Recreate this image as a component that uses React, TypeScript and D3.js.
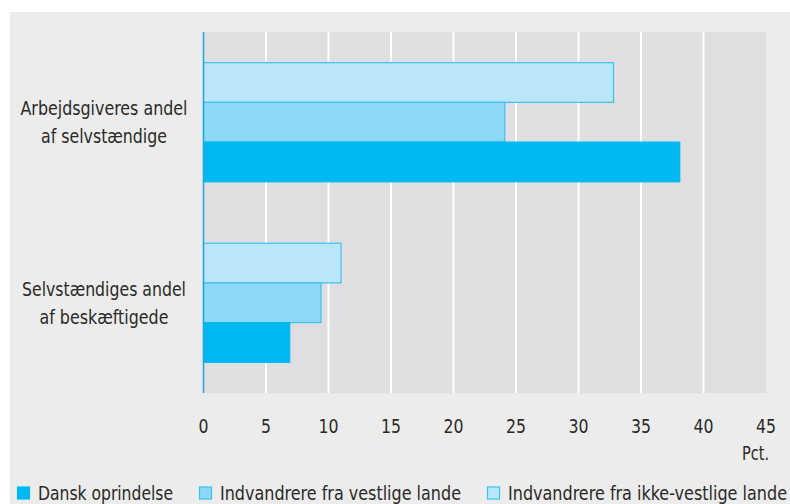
import React from "react";
import * as d3 from "d3";

const categories = ["Arbejdsgiveres andel|af selvstændige", "Selvstændiges andel|af beskæftigede"];
const seriesNames = ["Indvandrere fra ikke-vestlige lande", "Indvandrere fra vestlige lande", "Dansk oprindelse"];
const ikkeVestlige = [32.8, 11.0];
const vestlige = [24.1, 9.4];
const dansk = [38.1, 6.9];
const xTicks = [0, 5, 10, 15, 20, 25, 30, 35, 40, 45];
const legendOrder = ["Dansk oprindelse", "Indvandrere fra vestlige lande", "Indvandrere fra ikke-vestlige lande"];

const colors: Record<string, string> = {
  "Dansk oprindelse": "#00b9f1",
  "Indvandrere fra vestlige lande": "#8dd7f7",
  "Indvandrere fra ikke-vestlige lande": "#bae6fa",
};
const strokes: Record<string, string> = {
  "Dansk oprindelse": "#00b9f1",
  "Indvandrere fra vestlige lande": "#3dc1f0",
  "Indvandrere fra ikke-vestlige lande": "#3dc1f0",
};

const FONT = "'DejaVu Sans Condensed', 'DejaVu Sans', sans-serif";
const labelWidths: Record<string, number> = {
  "Arbejdsgiveres andel": 167,
  "af selvstændige": 126,
  "Selvstændiges andel": 164,
  "af beskæftigede": 129,
};
const legendTextWidths = [135, 241, 279];

export default function App() {
  const W = 790, H = 504;
  const left = 203.5, right = 766, top = 32, bottom = 393;
  const x = d3.scaleLinear().domain([0, 45]).range([left, right]);
  const y = d3.scaleBand<string>().domain(categories).range([top, bottom]).paddingInner(0.34).paddingOuter(0.17);
  const inner = d3.scaleBand<string>().domain(seriesNames).range([0, y.bandwidth()]);
  const valuesBy: Record<string, number[]> = {
    "Indvandrere fra ikke-vestlige lande": ikkeVestlige,
    "Indvandrere fra vestlige lande": vestlige,
    "Dansk oprindelse": dansk,
  };
  const legendX = [17, 199, 487];
  return (
    <svg width={W} height={H} style={{ position: "absolute", left: 0, top: 0 }} fontFamily={FONT} fontStretch="condensed">
      <rect x={0} y={0} width={W} height={H} fill="#ffffff" />
      <rect x={10} y={12} width={W - 10} height={H - 12} fill="#ebeceb" />
      <rect x={left} y={top} width={right - left} height={bottom - top} fill="#dfdfe1" />
      {xTicks.slice(1, -1).map((t) => (
        <line key={t} x1={x(t)} x2={x(t)} y1={top} y2={bottom} stroke="#ffffff" strokeWidth={2} />
      ))}
      {categories.map((c, ci) =>
        seriesNames.map((s) => {
          const v = valuesBy[s][ci];
          const y0 = (y(c) as number) + (inner(s) as number);
          return (
            <rect
              key={c + s}
              x={x(0)}
              y={y0}
              width={x(v) - x(0)}
              height={inner.bandwidth()}
              fill={colors[s]}
              stroke={strokes[s]}
              strokeWidth={1.2}
            />
          );
        })
      )}
      <line x1={x(0)} x2={x(0)} y1={top} y2={bottom} stroke="#1ea8df" strokeWidth={1.5} />
      {categories.map((c) => {
        const lines = c.split("|");
        const cy = (y(c) as number) + y.bandwidth() / 2;
        return lines.map((l, i) => (
          <text
            key={c + i}
            x={104}
            y={cy - 7 + i * 28}
            textAnchor="middle"
            fontSize={20}
            fill="#2b2a29"
            textLength={labelWidths[l]}
            lengthAdjust="spacingAndGlyphs"
          >
            {l}
          </text>
        ));
      })}
      {xTicks.map((t) => (
        <text
          key={t}
          x={x(t)}
          y={433}
          textAnchor="middle"
          fontSize={20}
          fill="#2b2a29"
          textLength={String(t).length * 10}
          lengthAdjust="spacingAndGlyphs"
        >
          {t}
        </text>
      ))}
      <text x={769} y={460} textAnchor="end" fontSize={20} fill="#2b2a29" textLength={27} lengthAdjust="spacingAndGlyphs">Pct.</text>
      {legendOrder.map((s, i) => (
        <g key={s}>
          <rect x={legendX[i] + 0.5} y={487} width={12} height={12} fill={colors[s]} stroke={strokes[s]} strokeWidth={1.2} />
          <text
            x={legendX[i] + 21}
            y={500}
            fontSize={20}
            fill="#2b2a29"
            textLength={legendTextWidths[i]}
            lengthAdjust="spacingAndGlyphs"
          >
            {s}
          </text>
        </g>
      ))}
    </svg>
  );
}
